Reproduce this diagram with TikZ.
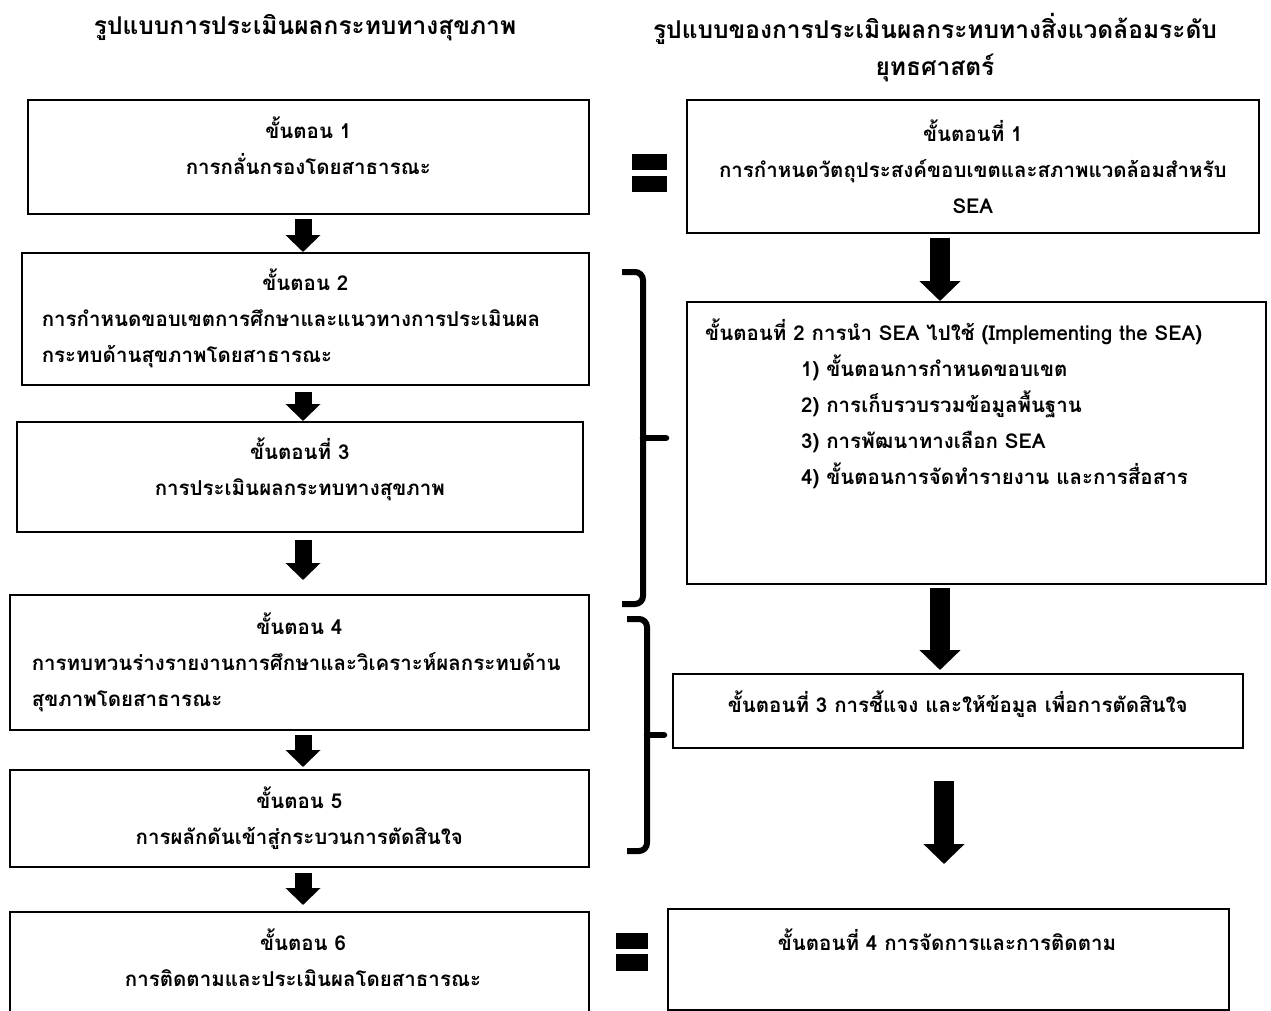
\documentclass[tikz,border=0pt]{standalone}
\usepackage{fontspec}
\newfontfamily\thaifont[Script=Thai]{Loma}
\usetikzlibrary{arrows.meta, positioning}

\tikzset{
  headtext/.style={font=\thaifont\bfseries\fontsize{24.5}{37}\selectfont, align=center},
  steptext/.style={font=\thaifont\bfseries\fontsize{20.5}{36}\selectfont, inner sep=0pt},
  stagebox/.style={draw, line width=1.6pt, anchor=north west, inner sep=0pt, align=center,
    font=\thaifont\bfseries\fontsize{20.5}{36}\selectfont},
  leftarrow/.style={line width=17pt, -{Triangle[width=34pt, length=17pt]}},
  rightarrow/.style={line width=20pt, -{Triangle[width=40pt, length=20pt]}},
  bracket/.style={line width=6pt, rounded corners=8pt}
}

\begin{document}
\begin{tikzpicture}[x=1pt, y=-1pt]
  % Page
  \useasboundingbox (0,0) rectangle (1271,1011);
  \clip (0,0) rectangle (1271,1011);
  % Headings
  \node[headtext] (hl) at (305,28) {รูปแบบการประเมินผลกระทบทางสุขภาพ};
  \node[headtext] (hr) at (935,48) {รูปแบบของการประเมินผลกระทบทางสิ่งแวดล้อมระดับ\\ยุทธศาสตร์};
  % Health impact assessment steps
  \node[stagebox, minimum width=561pt, minimum height=114pt] (L1) at (27,99) {};
  \node[steptext, align=center] (l1text) at ([yshift=11pt]L1.center) {ขั้นตอน 1\\การกลั่นกรองโดยสาธารณะ};
  \node[stagebox, minimum width=567pt, minimum height=132pt, text width=527pt, align=left] (L2) at (21,252)
    {\makebox[527pt]{ขั้นตอน 2}\\การกำหนดขอบเขตการศึกษาและแนวทางการประเมินผล\\กระทบด้านสุขภาพโดยสาธารณะ};
  \node[stagebox, minimum width=566pt, minimum height=110pt] (L3) at (16,421) {};
  \node[steptext, align=center] (l3text) at ([yshift=7pt]L3.center) {ขั้นตอนที่ 3\\การประเมินผลกระทบทางสุขภาพ};
  \node[stagebox, minimum width=579pt, minimum height=135pt, text width=535pt, align=left] (L4) at (9,594)
    {\makebox[535pt]{ขั้นตอน 4}\\การทบทวนร่างรายงานการศึกษาและวิเคราะห์ผลกระทบด้าน\\สุขภาพโดยสาธารณะ};
  \node[stagebox, minimum width=579pt, minimum height=97pt] (L5) at (9,769)
    {ขั้นตอน 5\\การผลักดันเข้าสู่กระบวนการตัดสินใจ};
  \node[stagebox, minimum width=579pt, minimum height=140pt] (L6) at (9,911) {};
  \node[steptext, align=center] (l6text) at (303,958) {ขั้นตอน 6\\การติดตามและประเมินผลโดยสาธารณะ};
  % SEA steps
  \node[stagebox, minimum width=572pt, minimum height=133pt] (R1) at (686,99)
    {ขั้นตอนที่ 1\\การกำหนดวัตถุประสงค์ขอบเขตและสภาพแวดล้อมสำหรับ\\SEA};
  \node[stagebox, minimum width=579pt, minimum height=282pt] (R2) at (686,301) {};
  \node[steptext, align=left, anchor=north west] (r2text) at (705,319)
    {ขั้นตอนที่ 2 การนำ SEA ไปใช้ (Implementing the SEA)\\
     \hspace*{96pt}1) ขั้นตอนการกำหนดขอบเขต\\
     \hspace*{96pt}2) การเก็บรวบรวมข้อมูลพื้นฐาน\\
     \hspace*{96pt}3) การพัฒนาทางเลือก SEA\\
     \hspace*{96pt}4) ขั้นตอนการจัดทำรายงาน และการสื่อสาร};
  \node[stagebox, minimum width=570pt, minimum height=74pt] (R3) at (672,673) {};
  \node[steptext] (r3text) at ([yshift=7pt]R3.center) {ขั้นตอนที่ 3 การชี้แจง และให้ข้อมูล เพื่อการตัดสินใจ};
  \node[stagebox, minimum width=561pt, minimum height=101pt] (R4) at (667,908) {};
  \node[steptext] (r4text) at (947,940) {ขั้นตอนที่ 4 การจัดการและการติดตาม};
  % Arrows
  \coordinate (lc) at (303,0);
  \coordinate (rc) at (940,0);
  \draw[leftarrow, shorten <=4pt] (L1.south -| lc) -- (L2.north -| lc);
  \draw[leftarrow, shorten <=6pt] (L2.south -| lc) -- (L3.north -| lc);
  \draw[leftarrow, shorten <=7pt, shorten >=14pt] (L3.south -| lc) -- (L4.north -| lc);
  \draw[leftarrow, shorten <=4pt, shorten >=2pt] (L4.south -| lc) -- (L5.north -| lc);
  \draw[leftarrow, shorten <=5pt, shorten >=6pt] (L5.south -| lc) -- (L6.north -| lc);
  \draw[rightarrow, shorten <=4pt] (R1.south -| rc) -- (R2.north -| rc);
  \draw[rightarrow, shorten <=3pt, shorten >=3pt] (R2.south -| rc) -- (R3.north -| rc);
  \draw[rightarrow, shorten <=32pt, shorten >=44pt] ([xshift=4pt]R3.south -| rc) -- ([xshift=4pt]R4.north -| rc);
  % Braces
  \draw[bracket] (622,272) -- (643,272) -- (643,604) -- (622,604);
  \draw[line width=6.5pt, line cap=round] (643,438) -- (666,438);
  \draw[bracket] (627,619) -- (647,619) -- (647,851) -- (627,851);
  \draw[line width=6.5pt, line cap=round] (647,735) -- (664,735);
  % Equal signs
  \fill (632,154) rectangle (667,170);
  \fill (632,176) rectangle (667,192);
  \fill (616,933) rectangle (648,949);
  \fill (616,954) rectangle (648,971);
\end{tikzpicture}
\end{document}
